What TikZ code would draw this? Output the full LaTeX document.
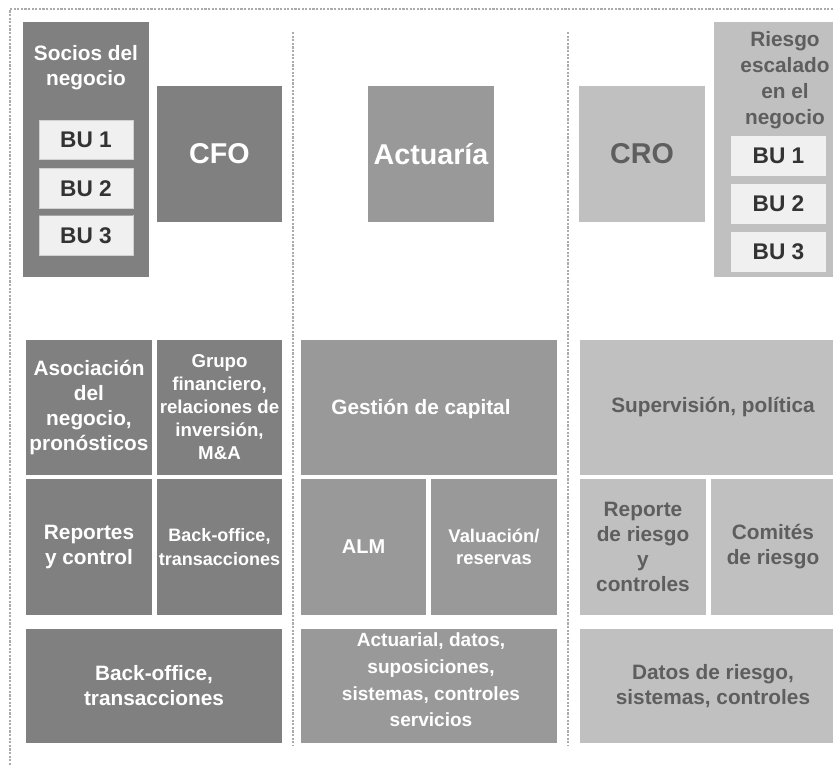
\documentclass[tikz,border=0pt]{standalone}
\usepackage{fontspec}
\setmainfont{Liberation Sans}
\usepackage{xcolor}
\usepackage{tikz}

\definecolor{cfogray}{HTML}{808080}
\definecolor{actgray}{HTML}{999999}
\definecolor{crogray}{HTML}{C0C0C0}
\definecolor{bufill}{HTML}{F0F0F0}
\definecolor{butext}{HTML}{333333}
\definecolor{crotext}{HTML}{5E5E5E}
\definecolor{sepgray}{HTML}{ABABAB}

\tikzset{
  blk/.style={inner sep=0pt, outer sep=0pt, align=center,
    font=\bfseries\fontsize{15.6}{18.75}\selectfont},
  wh/.style 2 args={minimum width=#1*0.75pt, minimum height=#2*0.75pt},
  cfobox/.style={blk, fill=cfogray, text=white},
  actbox/.style={blk, fill=actgray, text=white},
  crobox/.style={blk, fill=crogray, text=crotext},
  bubox/.style={blk, fill=bufill, draw=black!18, line width=0.6pt, text=butext,
    font=\bfseries\fontsize{17}{20}\selectfont},
  bigtxt/.style={font=\bfseries\fontsize{21.5}{25}\selectfont},
  sep/.style={draw=sepgray, line width=1.3pt, dash pattern=on 1.6pt off 1.1pt}
}

\begin{document}
\begin{tikzpicture}[x=0.75pt, y=-0.75pt]
        \useasboundingbox (0,0) rectangle (833,765);

        % dashed frame and column dividers
        \draw[sep] (833,9) -- (10,9) -- (10,765);
        \draw[sep] (293,32) -- (293,745);
        \draw[sep] (568,32) -- (568,745);

        % CFO column
        \node[cfobox, wh={126}{255}] (socios) at (86,149.5) {};
        \node[blk, text=white] (sociostxt) at (86,68) {Socios del\\negocio};
        \node[bubox, wh={94}{39}] (bua1) at (86,139.5) {BU 1};
        \node[bubox, wh={94}{40}] (bua2) at (86,188.5) {BU 2};
        \node[bubox, wh={94}{40}] (bua3) at (86,235.5) {BU 3};
        \draw[black!35, line width=1.2pt] (bua3.north west) -- (bua3.north east);
        \node[cfobox, bigtxt, wh={125}{136}] (cfo) at (219.5,154) {CFO};

        \node[cfobox, wh={126}{135}] (asoc) at (89,407.5)
            {Asociación\\del\\negocio,\\pronósticos};
        \node[cfobox, wh={125}{135}, font=\bfseries\fontsize{14}{17.25}\selectfont] (grupo) at (219.5,407.5)
            {Grupo\\financiero,\\relaciones de\\inversión,\\M\&A};
        \node[cfobox, wh={126}{136}] (reportes) at (89,547) {Reportes\\y control};
        \node[cfobox, wh={125}{136}, font=\bfseries\fontsize{13.5}{18}\selectfont] (backoff) at (219.5,547)
            {Back-office,\\transacciones};
        \node[cfobox, wh={256}{114}] (backall) at (154,686) {Back-office,\\transacciones};

        % Actuarial column
        \node[actbox, bigtxt, wh={126}{136}] (actuaria) at (431,154) {Actuaría};
        \node[actbox, wh={256}{135}] (gestion) at (429,407.5) {};
        \node[blk, text=white] (gestiontxt) at (421,409) {Gestión de capital};
        \node[actbox, wh={125}{136}, font=\bfseries\fontsize{15}{18}\selectfont] (alm) at (363.5,547) {ALM};
        \node[actbox, wh={126}{136}, font=\bfseries\fontsize{13.8}{16.3}\selectfont] (valuacion) at (494,547)
            {Valuación/\\reservas};
        \node[actbox, wh={256}{114}] (actuarial) at (429,686) {};
        \node[blk, text=white, anchor=north, font=\bfseries\fontsize{14.3}{20}\selectfont] (actuarialtxt) at (431,633)
            {Actuarial, datos,\\suposiciones,\\sistemas, controles\\servicios};

        % CRO column
        \node[crobox, bigtxt, wh={126}{136}] (cro) at (642,154) {CRO};
        \node[crobox, wh={142}{255}] (riesgo) at (785,149.5) {};
        \node[blk, text=crotext, font=\bfseries\fontsize{15.6}{19.5}\selectfont] (riesgotxt) at (785,80)
            {Riesgo\\escalado\\en el\\negocio};
        \node[bubox, draw=none, wh={95}{40}] (bub1) at (778.5,156) {BU 1};
        \node[bubox, draw=none, wh={95}{40}] (bub2) at (778.5,204) {BU 2};
        \node[bubox, draw=none, wh={95}{40}] (bub3) at (778.5,252) {BU 3};

        \node[crobox, wh={266}{135}] (supervision) at (713,407.5) {Supervisión, política};
        \node[crobox, wh={126}{136}] (reporte) at (643,547) {Reporte\\de riesgo\\y\\controles};
        \node[crobox, wh={124}{136}] (comites) at (773,547) {Comités\\de riesgo};
        \node[crobox, wh={266}{114}] (datos) at (713,686) {Datos de riesgo,\\sistemas, controles};
    \end{tikzpicture}
\end{document}
